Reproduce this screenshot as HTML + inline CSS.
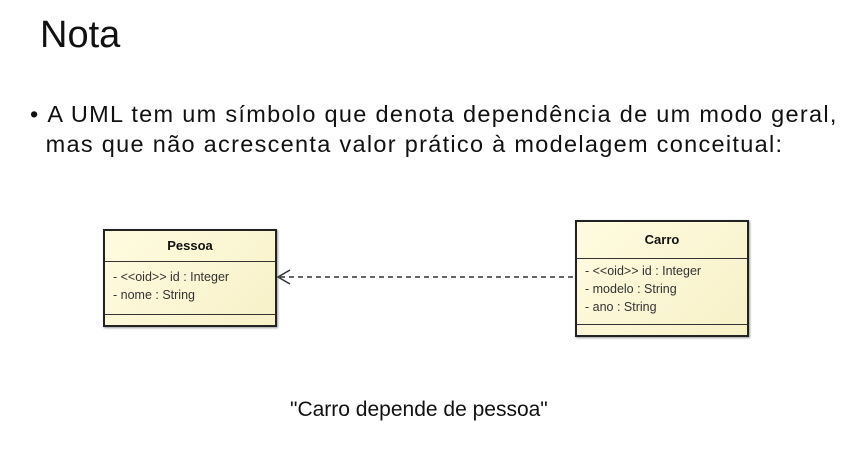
<!DOCTYPE html>
<html><head><style>
body{margin:0;width:866px;height:457px;background:#fff;position:relative;font-family:"Liberation Sans",sans-serif;color:#111;overflow:hidden}
.t{position:absolute;white-space:nowrap}
.box{position:absolute;background:linear-gradient(135deg,#fffbe0,#f7f1c8);border:2px solid #222;box-shadow:1px 1px 2px #999}
.hd{font-weight:bold;font-size:13px;text-align:center;border-bottom:1px solid #333}
.at{font-size:12.5px;color:#333;padding-left:8px;line-height:18px;border-bottom:1px solid #333}
</style></head><body>
<div class="t" style="left:30px;top:14px;font-size:38px;left:40px">Nota</div>
<div class="t" style="left:30px;top:99px;font-size:23.5px;line-height:30px;letter-spacing:1.3px">•&nbsp;A UML tem um símbolo que denota dependência de um modo geral,<br>&nbsp;&nbsp;mas que não acrescenta valor prático à modelagem conceitual:</div>
<div class="box" style="left:103px;top:229px;width:170px;height:94px">
<div class="hd" style="height:30px;line-height:30px">Pessoa</div>
<div class="at" style="padding-top:6px;padding-bottom:10px">- &lt;&lt;oid&gt;&gt; id : Integer<br>- nome : String</div>
</div>
<div class="box" style="left:575px;top:220px;width:170px;height:113px">
<div class="hd" style="height:36px;line-height:36px">Carro</div>
<div class="at" style="padding-top:3px;padding-bottom:8px">- &lt;&lt;oid&gt;&gt; id : Integer<br>- modelo : String<br>- ano : String</div>
</div>
<svg style="position:absolute;left:0;top:0" width="866" height="457">
<line x1="280" y1="277" x2="575" y2="277" stroke="#333" stroke-width="1.5" stroke-dasharray="5,4"/>
<polyline points="290,270 278,277 290,284" fill="none" stroke="#333" stroke-width="1.5"/>
</svg>
<div class="t" style="left:290px;top:398px;font-size:21px">"Carro depende de pessoa"</div>
</body></html>
